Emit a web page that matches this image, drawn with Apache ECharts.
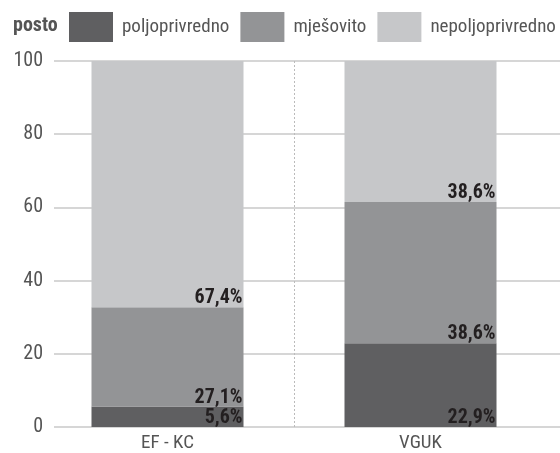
<!DOCTYPE html>
<html>
<head>
<meta charset="utf-8">
<script src="https://cdn.jsdelivr.net/npm/echarts@6/dist/echarts.min.js"></script>
<style>
  html, body { margin: 0; padding: 0; background: #fff; }
  #chart { width: 560px; height: 453px; }
</style>
</head>
<body>
<div id="chart"></div>
<script>
const categories = ['EF - KC', 'VGUK']
const seriesNames = ['poljoprivredno', 'mješovito', 'nepoljoprivredno']
const poljoprivredno = [5.6, 22.9]
const mjesovito = [27.1, 38.6]
const nepoljoprivredno = [67.4, 38.6]
const yTicks = [0, 20, 40, 60, 80, 100]

const font = '"Roboto Condensed", sans-serif'
const colors = ['#5f5f61', '#939496', '#c6c7c9']
const values = [poljoprivredno, mjesovito, nepoljoprivredno]

const chart = echarts.init(document.getElementById('chart'))
chart.setOption({
  animation: false,
  textStyle: { fontFamily: font },
  title: {
    text: 'posto',
    left: 8,
    top: 12,
    padding: [4, 5],
    textStyle: { fontFamily: font, fontSize: 20, fontWeight: 'bold', color: '#555' }
  },
  legend: {
    left: 69,
    top: 12,
    padding: 0,
    itemWidth: 44,
    itemHeight: 30,
    itemGap: 11,
    itemStyle: { borderWidth: 0 },
    textStyle: { fontFamily: font, fontSize: 19, color: '#555', padding: [0, 0, 0, 4] },
    icon: 'rect',
    data: seriesNames
  },
  grid: [
    { left: 41, right: 13, top: 61, bottom: 26 },
    { left: 54, right: 0, top: 61, bottom: 26 }
  ],
  xAxis: [
    {
      type: 'category',
      gridIndex: 0,
      data: categories,
      axisLine: { show: false },
      axisTick: { show: false },
      axisLabel: { color: '#555', fontSize: 19, fontFamily: font, margin: 7 },
      splitLine: { show: false }
    },
    { type: 'value', gridIndex: 1, show: false, min: 0, max: 1 },
    {
      // divider between the two categories
      type: 'category',
      gridIndex: 0,
      position: 'bottom',
      boundaryGap: false,
      data: ['', '', ''],
      axisLine: { show: false },
      axisTick: { show: false },
      axisLabel: { show: false },
      splitLine: {
        show: true,
        interval: (i) => i === 1,
        lineStyle: { color: '#bbb', type: [2, 2], width: 1 }
      }
    }
  ],
  yAxis: [
    { type: 'value', gridIndex: 0, min: 0, max: 100, show: false },
    {
      type: 'value',
      gridIndex: 1,
      min: yTicks[0],
      max: yTicks[yTicks.length - 1],
      interval: 20,
      axisLine: { show: false },
      axisTick: { show: false },
      axisLabel: { color: '#555', fontSize: 20, fontFamily: font, margin: 11 },
      splitLine: { lineStyle: { color: '#c8c8c8', width: 1.5 } }
    }
  ],
  series: seriesNames.map((name, i) => ({
    name,
    type: 'bar',
    stack: 'total',
    xAxisIndex: 0,
    yAxisIndex: 0,
    barWidth: 152,
    itemStyle: { color: colors[i] },
    label: {
      show: true,
      position: 'insideBottomRight',
      distance: 1,
      color: '#231f20',
      fontFamily: font,
      fontSize: 20,
      lineHeight: 16,
      fontWeight: 'bold',
      formatter: (p) => p.value.toFixed(1).replace('.', ',') + '%'
    },
    data: values[i]
  }))
})
</script>
</body>
</html>
